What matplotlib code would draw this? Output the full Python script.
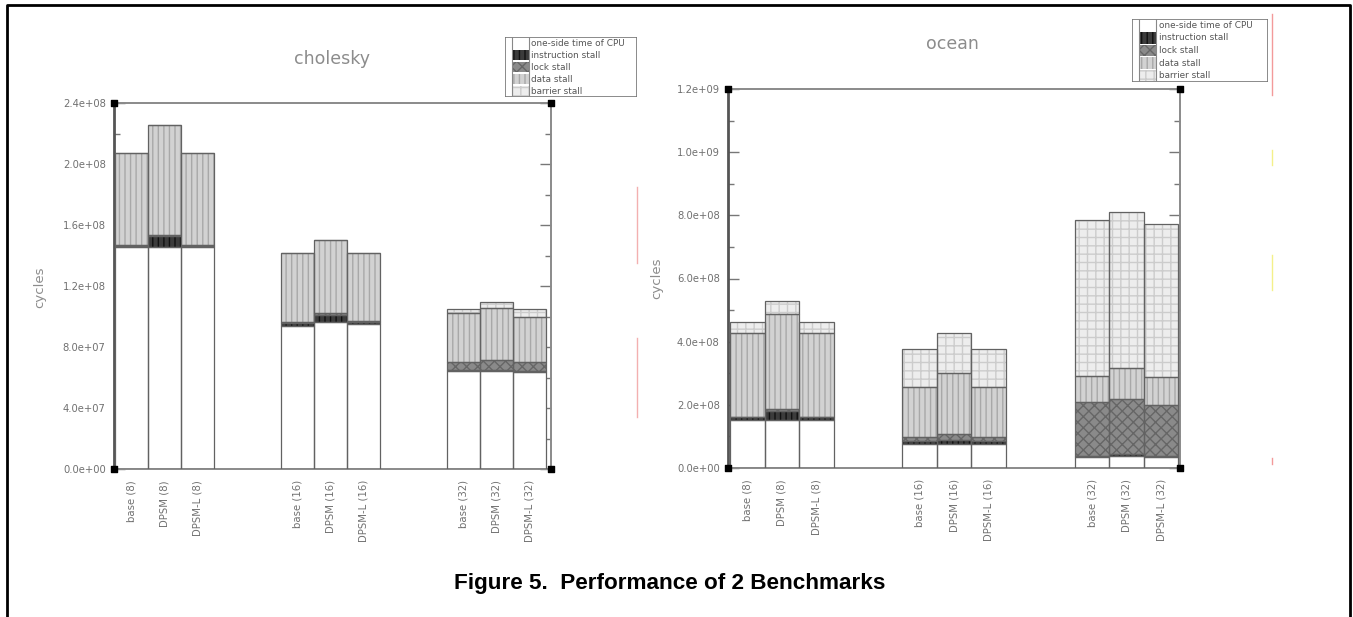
"""
Figure 5 re-drawn: stacked cycle breakdown for cholesky and ocean.
"""

import matplotlib

matplotlib.use("Agg")

import matplotlib.pyplot as plt
from matplotlib.lines import Line2D
from matplotlib.patches import Rectangle
import numpy as np


CONFIGS = ["base", "DPSM", "DPSM-L"]
PROCESSORS = ["8", "16", "32"]
TICK_LABELS = [f"{c} ({p})" for p in PROCESSORS for c in CONFIGS]

COMPONENTS = [
    "one-side time of CPU",
    "instruction stall",
    "lock stall",
    "data stall",
    "barrier stall",
]

# cycles, one row per bar, one column per component
CHOLESKY = np.array([
    [1.455e8, 0.010e8, 0.005e8, 0.600e8, 0.000e8],
    [1.455e8, 0.070e8, 0.010e8, 0.721e8, 0.000e8],
    [1.455e8, 0.010e8, 0.005e8, 0.600e8, 0.000e8],
    [0.935e8, 0.020e8, 0.012e8, 0.448e8, 0.000e8],
    [0.967e8, 0.040e8, 0.013e8, 0.480e8, 0.000e8],
    [0.950e8, 0.012e8, 0.008e8, 0.445e8, 0.000e8],
    [0.641e8, 0.008e8, 0.051e8, 0.320e8, 0.028e8],
    [0.641e8, 0.010e8, 0.066e8, 0.337e8, 0.044e8],
    [0.635e8, 0.008e8, 0.057e8, 0.296e8, 0.052e8],
])

OCEAN = np.array([
    [0.153e9, 0.008e9, 0.002e9, 0.265e9, 0.033e9],
    [0.153e9, 0.028e9, 0.005e9, 0.303e9, 0.040e9],
    [0.153e9, 0.008e9, 0.002e9, 0.265e9, 0.033e9],
    [0.077e9, 0.010e9, 0.010e9, 0.161e9, 0.119e9],
    [0.077e9, 0.012e9, 0.020e9, 0.193e9, 0.124e9],
    [0.077e9, 0.008e9, 0.013e9, 0.160e9, 0.119e9],
    [0.034e9, 0.004e9, 0.170e9, 0.084e9, 0.493e9],
    [0.037e9, 0.008e9, 0.173e9, 0.100e9, 0.492e9],
    [0.034e9, 0.004e9, 0.162e9, 0.089e9, 0.483e9],
])

CHOLESKY_YTICKS = [0, 0.4e8, 0.8e8, 1.2e8, 1.6e8, 2.0e8, 2.4e8]
CHOLESKY_YLABELS = ["0.0e+00", "4.0e+07", "8.0e+07", "1.2e+08", "1.6e+08", "2.0e+08", "2.4e+08"]
OCEAN_YTICKS = [0, 0.2e9, 0.4e9, 0.6e9, 0.8e9, 1.0e9, 1.2e9]
OCEAN_YLABELS = ["0.0e+00", "2.0e+08", "4.0e+08", "6.0e+08", "8.0e+08", "1.0e+09", "1.2e+09"]

STYLES = [
    {"face": "white", "hatch": None, "hcolor": "white"},
    {"face": "#3c3c3c", "hatch": "|||", "hcolor": "#111111"},
    {"face": "#8a8a8a", "hatch": "xxx", "hcolor": "#666666"},
    {"face": "#d2d2d2", "hatch": "|||", "hcolor": "#a8a8a8"},
    {"face": "#ededed", "hatch": "++", "hcolor": "#cccccc"},
]

TEXT_GREY = "#707070"
EDGE_GREY = "#626262"

W, H = 1353, 617


def fig_box(left, top, right, bottom):
    return [left / W, 1 - bottom / H, (right - left) / W, (bottom - top) / H]


def bar_positions():
    return np.array([g * 5 + i + 0.5 for g in range(len(PROCESSORS)) for i in range(len(CONFIGS))])


def draw_panel(fig, box, values, title, yticks, ylabels, ymax, minor_step, xlim, title_xy, ylabel_xy):
    ax = fig.add_axes(box)
    x = bar_positions()
    bottoms = np.zeros(len(x))

    for k, style in enumerate(STYLES):
        heights = values[:, k]
        ax.bar(x, heights, width=1.0, bottom=bottoms, color=style["face"],
               edgecolor=style["hcolor"], hatch=style["hatch"], linewidth=0, zorder=2)
        ax.bar(x, heights, width=1.0, bottom=bottoms, fill=False,
               edgecolor=EDGE_GREY, linewidth=0.9, zorder=3)
        bottoms = bottoms + heights

    ax.set_xlim(*xlim)
    ax.set_ylim(0, ymax)
    ax.set_yticks(yticks)
    ax.set_yticklabels(ylabels)
    ax.set_yticks(np.arange(0, ymax + 1, minor_step), minor=True)
    ax.set_xticks(x)
    ax.set_xticklabels(TICK_LABELS, rotation=90, fontsize=7.3, color=TEXT_GREY)
    ax.tick_params(axis="x", length=0, pad=8)
    ax.tick_params(axis="y", which="both", direction="in", right=True,
                   colors="#777777", labelcolor=TEXT_GREY, labelsize=7.2, pad=6)
    ax.tick_params(axis="y", which="major", length=8, width=1)
    ax.tick_params(axis="y", which="minor", length=4, width=1)

    for side in ["top", "right", "bottom"]:
        ax.spines[side].set_color("#8a8a8a")
        ax.spines[side].set_linewidth(1.4)
    ax.spines["left"].set_color("#555555")
    ax.spines["left"].set_linewidth(2.0)

    ax.scatter([0, 1, 0, 1], [0, 0, 1, 1], transform=ax.transAxes, marker="s",
               s=22, color="black", clip_on=False, zorder=5)

    fig.text(title_xy[0] / W, 1 - title_xy[1] / H, title, ha="center", va="center",
             fontsize=12.5, color="#8c8c8c")
    fig.text(ylabel_xy[0] / W, 1 - ylabel_xy[1] / H, "cycles", ha="center", va="center",
             rotation=90, fontsize=9.5, color="#8c8c8c")
    return ax


def draw_legend(fig, box):
    lax = fig.add_axes(box)
    lax.set_xlim(0, 1)
    lax.set_ylim(0, len(STYLES))
    lax.set_axis_off()
    lax.add_patch(Rectangle((0, 0), 1, len(STYLES), fill=False, edgecolor="#777777", linewidth=1.2))
    for k, (style, name) in enumerate(zip(STYLES, COMPONENTS)):
        y = len(STYLES) - 1 - k
        lax.add_patch(Rectangle((0.055, y + 0.05), 0.125, 0.9, facecolor=style["face"],
                                edgecolor=style["hcolor"], hatch=style["hatch"], linewidth=0))
        lax.text(0.2, y + 0.5, name, fontsize=6.4, color="#555555", va="center", ha="left")
    lax.plot([0.055, 0.055], [0, len(STYLES)], color="#888888", linewidth=0.8)
    lax.plot([0.18, 0.18], [0, len(STYLES)], color="#888888", linewidth=0.8)


def main():
    fig = plt.figure(figsize=(W / 100, H / 100), dpi=100)
    fig.patch.set_facecolor("white")

    draw_panel(fig, fig_box(114, 103, 551, 469), CHOLESKY, "cholesky",
               CHOLESKY_YTICKS, CHOLESKY_YLABELS, 2.4e8, 0.2e8, (-0.03, 13.15),
               (332, 59), (40, 287))
    draw_panel(fig, fig_box(728, 89, 1180, 468), OCEAN, "ocean",
               OCEAN_YTICKS, OCEAN_YLABELS, 1.2e9, 0.1e9, (-0.06, 13.05),
               (952, 44), (657, 278))

    draw_legend(fig, fig_box(505, 37, 637, 97))
    draw_legend(fig, fig_box(1132, 19, 1268, 82))

    # scan artefacts next to each panel
    for x0, y0, y1, color in [(637, 187, 263, "#f3b0b0"), (637, 338, 417, "#f3b0b0"),
                              (1272, 14, 95, "#f39a9a"), (1272, 150, 165, "#f4f08a"),
                              (1272, 255, 290, "#f4f08a"), (1272, 458, 464, "#f39a9a")]:
        fig.add_artist(Line2D([x0 / W, x0 / W], [1 - y0 / H, 1 - y1 / H], color=color, linewidth=1))

    # page frame
    fig.add_artist(Line2D([7 / W, 7 / W, 1350 / W, 1350 / W], [0, 1 - 5 / H, 1 - 5 / H, 0],
                          color="black", linewidth=2))

    fig.text(670 / W, 1 - 583 / H, "Figure 5.  Performance of 2 Benchmarks", ha="center",
             va="center", fontsize=16.2, fontweight="bold", family="Liberation Sans")

    fig.savefig("out.png", dpi=100)
    plt.close(fig)


if __name__ == "__main__":
    main()
